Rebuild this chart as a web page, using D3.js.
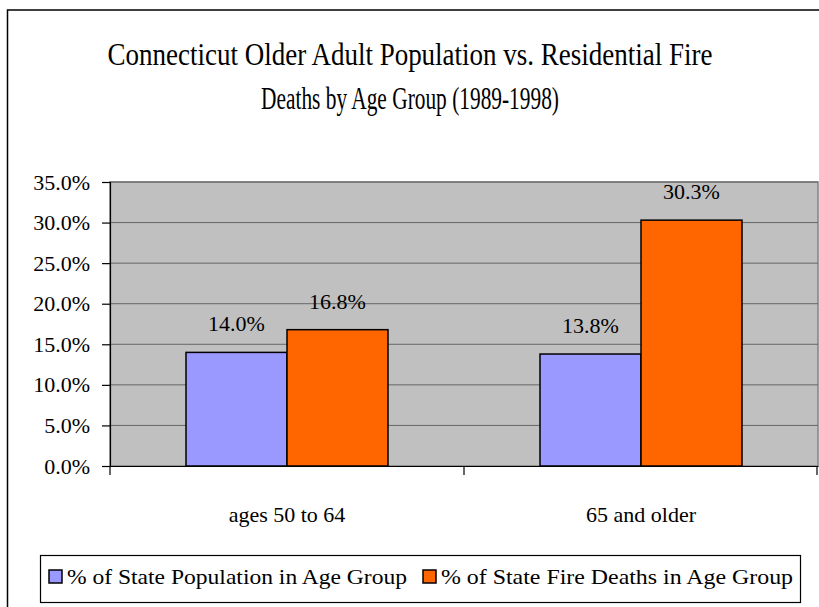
<!DOCTYPE html>
<html>
<head>
<meta charset="utf-8">
<script src="https://cdn.jsdelivr.net/npm/d3@7"></script>
<style>
  body { margin: 0; background: #fff; }
  svg text { font-family: "Liberation Serif", "Times New Roman", serif; fill: #000; }
</style>
</head>
<body>
<div class="canvas"></div>
<script>
// data
const categories = ['ages 50 to 64', '65 and older']
const seriesNames = ['% of State Population in Age Group', '% of State Fire Deaths in Age Group']
const populationPct = [14.0, 13.8]
const fireDeathPct = [16.8, 30.3]
const yTicks = [0, 5, 10, 15, 20, 25, 30, 35]
const titleLines = ['Connecticut Older Adult Population vs. Residential Fire', 'Deaths by Age Group (1989-1998)']

const colors = ['#9999ff', '#ff6600']

const svg = d3.select('.canvas')
  .append('svg')
  .attr('width', 819)
  .attr('height', 607)

// outer chart border (clipped at right/bottom like the reference)
svg.append('rect')
  .attr('x', 7.5)
  .attr('y', 10)
  .attr('width', 840)
  .attr('height', 640)
  .attr('fill', '#fff')
  .attr('stroke', '#000')
  .attr('stroke-width', 1.5)

// title - tall narrow glyphs, so squeeze horizontally with a scale
const titleWidths = [605, 298]
titleLines.forEach((line, i) => {
  const g = svg.append('g')
  const t = g.append('text')
    .attr('text-anchor', 'middle')
    .attr('font-size', 32)
    .text(line)
  const natural = t.node().getComputedTextLength()
  const sx = Math.min(1, titleWidths[i] / natural)
  g.attr('transform', `translate(410, ${65 + i * 44}) scale(${sx}, 1)`)
})

// plot area
const plot = { left: 110, top: 182, right: 818, bottom: 466 }

const y = d3.scaleLinear()
  .domain([0, 35])
  .range([plot.bottom, plot.top])

const x = d3.scaleBand()
  .domain(categories)
  .range([plot.left, plot.right])

const xInner = d3.scaleBand()
  .domain(seriesNames)
  .range([76, 278])

svg.append('rect')
  .attr('x', plot.left)
  .attr('y', plot.top)
  .attr('width', plot.right - plot.left)
  .attr('height', plot.bottom - plot.top)
  .attr('fill', '#c0c0c0')
  .attr('stroke', '#808080')
  .attr('stroke-width', 1.5)

// gridlines
svg.append('g')
  .selectAll('line')
  .data(yTicks.slice(1))
  .enter()
  .append('line')
  .attr('x1', plot.left)
  .attr('x2', plot.right)
  .attr('y1', d => y(d))
  .attr('y2', d => y(d))
  .attr('stroke', '#666')
  .attr('stroke-width', 1)

// y axis
const yAxis = d3.axisLeft(y)
  .tickValues(yTicks)
  .tickSize(8)
  .tickPadding(12)
  .tickFormat(d => d.toFixed(1) + '%')

const yAxisGroup = svg.append('g')
  .attr('transform', `translate(${plot.left}, 0)`)
  .call(yAxis)
yAxisGroup.select('.domain').attr('stroke', '#000').attr('stroke-width', 1.2)
yAxisGroup.selectAll('line').attr('stroke', '#000').attr('stroke-width', 1.2)
yAxisGroup.selectAll('text')
  .attr('font-size', 22)
  .attr('font-family', '"Liberation Serif", serif')
  .attr('fill', '#000')

// bars
const rows = categories.map((c, i) => ({ cat: c, vals: [populationPct[i], fireDeathPct[i]] }))

const groups = svg.selectAll('.grp')
  .data(rows)
  .enter()
  .append('g')
  .attr('class', 'grp')
  .attr('transform', d => `translate(${x(d.cat)}, 0)`)

groups.selectAll('rect')
  .data(d => d.vals.map((v, j) => ({ v, s: seriesNames[j], j })))
  .enter()
  .append('rect')
  .attr('x', d => xInner(d.s))
  .attr('width', xInner.bandwidth())
  .attr('y', d => y(d.v))
  .attr('height', d => y(0) - y(d.v))
  .attr('fill', d => colors[d.j])
  .attr('stroke', '#000')
  .attr('stroke-width', 1.5)

groups.selectAll('.lbl')
  .data(d => d.vals.map((v, j) => ({ v, s: seriesNames[j], j })))
  .enter()
  .append('text')
  .attr('class', 'lbl')
  .attr('x', d => xInner(d.s) + xInner.bandwidth() / 2)
  .attr('y', d => y(d.v) - 21)
  .attr('text-anchor', 'middle')
  .attr('font-size', 22)
  .text(d => d.v.toFixed(1) + '%')

// x axis
const xAxis = d3.axisBottom(x)
  .tickSize(0)
  .tickPadding(40)

const xAxisGroup = svg.append('g')
  .attr('transform', `translate(0, ${plot.bottom})`)
  .call(xAxis)
xAxisGroup.select('.domain').attr('stroke', '#000').attr('stroke-width', 1.2)
xAxisGroup.selectAll('text')
  .attr('font-size', 22)
  .attr('font-family', '"Liberation Serif", serif')
  .attr('fill', '#000')

// category boundary ticks
svg.append('g')
  .selectAll('line')
  .data([plot.left, x(categories[1]), plot.right - 1])
  .enter()
  .append('line')
  .attr('x1', d => d)
  .attr('x2', d => d)
  .attr('y1', plot.bottom)
  .attr('y2', plot.bottom + 9)
  .attr('stroke', '#000')
  .attr('stroke-width', 1.2)

// legend
const legend = svg.append('g')
legend.append('rect')
  .attr('x', 40.5)
  .attr('y', 555.5)
  .attr('width', 760)
  .attr('height', 47)
  .attr('fill', '#fff')
  .attr('stroke', '#000')
  .attr('stroke-width', 1.2)

const legendX = [49, 423]
const legendTextLen = [340, 352]

const items = legend.selectAll('.item')
  .data(seriesNames)
  .enter()
  .append('g')
  .attr('class', 'item')
  .attr('transform', (d, i) => `translate(${legendX[i]}, 570)`)

items.append('rect')
  .attr('width', 13)
  .attr('height', 13)
  .attr('fill', (d, i) => colors[i])
  .attr('stroke', '#000')
  .attr('stroke-width', 1.5)

items.append('text')
  .attr('x', 18)
  .attr('y', 14)
  .attr('font-size', 22)
  .attr('textLength', (d, i) => legendTextLen[i])
  .attr('lengthAdjust', 'spacingAndGlyphs')
  .text(d => d)
</script>
</body>
</html>
